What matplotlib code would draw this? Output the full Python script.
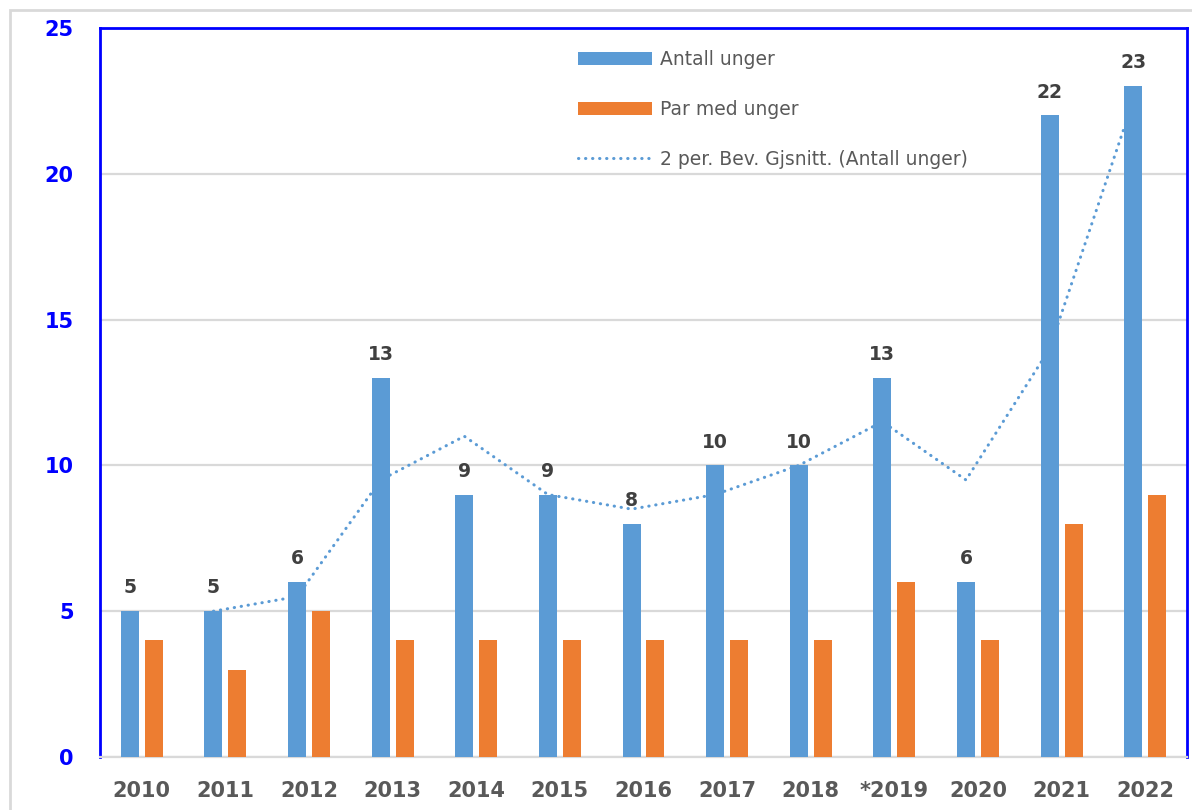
import matplotlib.pyplot as plt
import numpy as np
from matplotlib.patches import Rectangle
from matplotlib.lines import Line2D
from matplotlib.patches import Patch

plt.rcParams['font.family'] = ['DejaVu Sans']

# data
years = ['2010', '2011', '2012', '2013', '2014', '2015', '2016',
         '2017', '2018', '*2019', '2020', '2021', '2022']
antall_unger = [5, 5, 6, 13, 9, 9, 8, 10, 10, 13, 6, 22, 23]
par_med_unger = [4, 3, 5, 4, 4, 4, 4, 4, 4, 6, 4, 8, 9]
# 2 per. glidende gjennomsnitt, lest fra figuren (fra 2011)
glid_snitt = [5, 5.5, 9.5, 11, 9, 8.5, 9, 10, 11.5, 9.5, 14, 22.5]

blue = '#5B9BD5'
orange = '#ED7D31'
grid_grey = '#D9D9D9'

W, H = 1192, 810
fig = plt.figure(figsize=(W / 100, H / 100), dpi=100)
ax = fig.add_axes([100 / W, 1 - 757 / H, 1087 / W, 729 / H])

x = np.arange(len(years))
bw = 0.215
off = 0.143

ax.bar(x - off, antall_unger, width=bw, color=blue, zorder=3)
ax.bar(x + off, par_med_unger, width=bw, color=orange, zorder=3)

# glidende gjennomsnitt, tegnet gjennom midten av de blå søylene
ax.plot(x[1:] - off, glid_snitt, color=blue, lw=2.2,
        linestyle=(0, (0.1, 2.2)), dash_capstyle='round', zorder=4)

# verdier over søylene
for xi, v in zip(x, antall_unger):
    ax.annotate(str(v), (xi - off, v), xytext=(0, 10), textcoords='offset points',
                ha='center', va='bottom', fontsize=13.5, fontweight='bold',
                color='#404040')

ax.set_xlim(-0.5, len(years) - 0.5)
ax.set_ylim(0, 25)
ax.set_yticks([0, 5, 10, 15, 20, 25])
ax.set_xticks(x)
ax.set_xticklabels(years)
ax.tick_params(axis='x', length=0, pad=17, labelsize=15, labelcolor='#595959')
ax.tick_params(axis='y', length=0, pad=19, labelsize=15, labelcolor='#0000FF')
for lab in ax.get_xticklabels() + ax.get_yticklabels():
    lab.set_fontweight('bold')

ax.yaxis.grid(True, color=grid_grey, lw=1.6, zorder=0)
ax.set_axisbelow(True)
for side in ['left', 'top', 'right']:
    ax.spines[side].set_color('#0000FF')
    ax.spines[side].set_linewidth(2)
ax.spines['bottom'].set_color(grid_grey)
ax.spines['bottom'].set_linewidth(1.6)

handles = [
    Patch(facecolor=blue, label='Antall unger'),
    Patch(facecolor=orange, label='Par med unger'),
    Line2D([0], [0], color=blue, lw=2.2, linestyle=(0, (0.1, 2.2)),
           dash_capstyle='round', label='2 per. Bev. Gjsnitt. (Antall unger)'),
]
leg = ax.legend(handles=handles, loc='upper left', bbox_to_anchor=(578 / W, 1 - 50 / H),
                bbox_transform=fig.transFigure, frameon=False, fontsize=13.5,
                handlelength=3.95, handletextpad=0.45, labelspacing=1.65,
                handleheight=0.65, borderpad=0, borderaxespad=0)
for t in leg.get_texts():
    t.set_color('#595959')

# ytre ramme
fig.patches.append(Rectangle((10 / W, -0.1), 1.2, 1 - 10 / H + 0.1, fill=False,
                             edgecolor=grid_grey, lw=2, transform=fig.transFigure))

fig.savefig('out.png', dpi=100)
